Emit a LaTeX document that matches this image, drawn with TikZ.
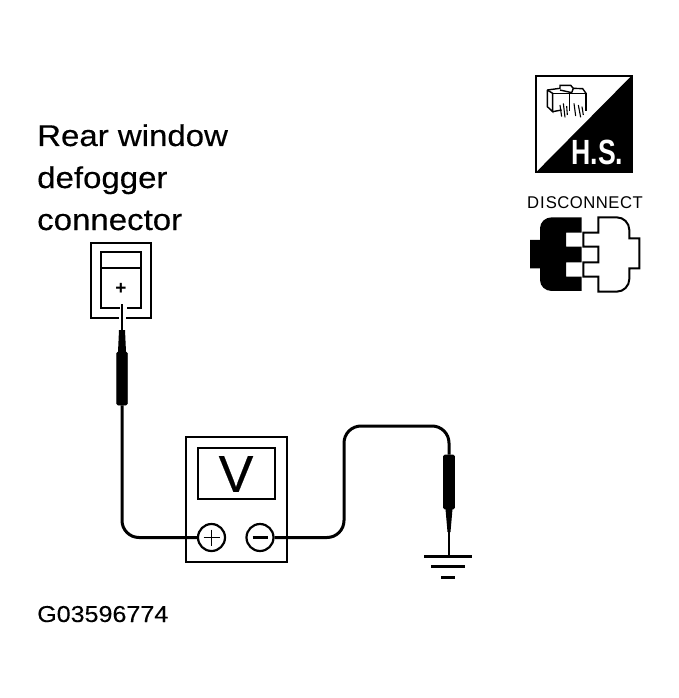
\documentclass[tikz,border=0pt]{standalone}
\usepackage{fontspec}
\setmainfont{Liberation Sans}
\newfontfamily\heavyfont[FakeBold=0.35]{Liberation Sans}
\newfontfamily\medfont[FakeBold=0.15]{Liberation Sans}
\tikzset{
  wire/.style={line width=3pt,rounded corners=17pt},
  boxline/.style={draw=black,line width=2.6pt,fill=white},
  thinline/.style={draw=black,line width=1.4pt},
  label/.style={anchor=base west,inner sep=0pt,xscale=1.1,font=\heavyfont\fontsize{30}{30}\selectfont},
  terminal/.style={circle,draw=black,line width=2.2pt,fill=white,minimum size=27pt,inner sep=0pt},
  probefill/.style={fill=black,draw=black,line width=.6pt,rounded corners=1.2pt},
  groundbar/.style={line width=3pt}
}
\begin{document}
\begin{tikzpicture}[x=1pt,y=-1pt]
\useasboundingbox (0,0) rectangle (679,698);
\fill[white] (0,0) rectangle (679,698);
% labels
\node[label] (t1) at (37,146) {Rear window};
\node[label] (t2) at (37,188) {defogger};
\node[label] (t3) at (37,230) {connector};
\node[anchor=base west,inner sep=0pt,xscale=1.09,font=\medfont\fontsize{23}{23}\selectfont] (code) at (37,622) {G03596774};
% H.S. icon
\begin{scope}[shift={(510,60)},x=.3333pt,y=-.3333pt]
\fill (365,47) -- (365,335) -- (80,335) -- cycle;
\draw[line width=2pt] (78,335) -- (78,47) -- (365,47) -- (365,335) -- cycle;
\draw[thinline] (112,90) -- (112,140) -- (128,155) -- (128,100) -- (112,90);
\draw[thinline] (128,100) -- (228,100) -- (228,152);
\draw[thinline] (112,90) -- (150,85) -- (150,76) -- (182,76) -- (190,85) -- (218,86) -- (228,100);
\draw[thinline] (150,90) -- (185,98) -- (190,85);
\draw[thinline] (178,100) -- (178,152);
\draw[thinline] (128,155) -- (155,150);
\draw[line width=1.1pt] (150,135) -- (155,170) (160,130) -- (165,172) (170,138) -- (172,165) (192,130) -- (197,168) (205,135) -- (212,172) (216,140) -- (220,165);
\node[text=white,inner sep=0pt,font=\bfseries\fontsize{35}{35}\selectfont,xscale=.76] (hs) at (262,277) {H.S.};
\end{scope}
% disconnect icon
\node[inner sep=0pt,font=\fontsize{17}{17}\selectfont,xscale=.98] (disc) at (585,203) {D\kern1pt I\kern1pt S\kern.5pt C\kern.5pt O\kern.5pt N\kern.5pt N\kern.5pt E\kern.5pt C\kern.5pt T};
\begin{scope}[shift={(510,185)},x=.3333pt,y=-.3333pt]
\fill (60,165) -- (90,165) -- (90,130) to[out=90,in=180] (125,97) -- (215,97) -- (215,143) -- (168,143) -- (168,185) -- (215,185) -- (215,232) -- (168,232) -- (168,275) -- (215,275) -- (215,318) -- (125,318) to[out=180,in=-90] (90,285) -- (90,250) -- (60,250) -- cycle;
\draw[line width=2pt,fill=white] (265,97) -- (320,97) to[out=0,in=90] (358,135) -- (358,160) -- (388,160) -- (388,250) -- (358,250) -- (358,282) to[out=-90,in=0] (320,320) -- (265,320) -- (265,275) -- (220,275) -- (220,232) -- (265,232) -- (265,185) -- (220,185) -- (220,143) -- (265,143) -- cycle;
\end{scope}
% connector
\draw[line width=2.6pt] (119,318) -- (91,318) -- (91,243) -- (151,243) -- (151,318) -- (126,318);
\draw[line width=2.6pt] (120,308) -- (101,308) -- (101,252) -- (141,252) -- (141,308) -- (127,308);
\draw[line width=1.6pt] (101,268) -- (141,268);
\node[inner sep=0pt,font=\bfseries\fontsize{19}{19}\selectfont] (plusmark) at (121,289) {+};
% probe 1
\draw[line width=1.5pt] (122,304) -- (122,333);
\fill (119,330) -- (125,330) -- (126,352) -- (118,352) -- cycle;
\node[probefill,minimum width=10.5pt,minimum height=53pt,inner sep=0pt] (probeA) at (122,378.5) {};
% meter
\node[boxline,minimum width=101pt,minimum height=125pt,inner sep=0pt] (meter) at (236.5,499.5) {};
\node[draw=black,line width=2pt,fill=white,minimum width=77pt,minimum height=51pt,inner sep=0pt] (screen) at (236.5,473.5) {};
\node[inner sep=0pt,font=\heavyfont\fontsize{52}{52}\selectfont] (vlabel) at (236,474) {V};
\node[terminal] (plus) at (211.5,537.5) {};
\node[terminal] (minus) at (260,537.5) {};
\draw[line width=1.4pt] (plus.center) ++(-8,0) -- ++(16,0) (plus.center) ++(0,-8) -- ++(0,16);
\draw[line width=2.2pt] (minus.center) ++(-7.5,0) -- ++(15,0);
% probe 2
\node[probefill,minimum width=11pt,minimum height=54pt,inner sep=0pt] (probeB) at (449,482) {};
\fill (445.5,509) -- (452.5,509) -- (450.5,532) -- (447.5,532) -- cycle;
\coordinate (tipB) at (449,556);
\draw[line width=1.5pt] (449,530) -- (tipB);
% ground
\coordinate (g1l) at (424,556); \coordinate (g1r) at (472,556);
\coordinate (g2l) at (431,566); \coordinate (g2r) at (465,566);
\coordinate (g3l) at (441,577); \coordinate (g3r) at (455,577);
\draw[groundbar] (g1l) -- (g1r);
\draw[groundbar] (g2l) -- (g2r);
\draw[groundbar] (g3l) -- (g3r);
% wires
\draw[wire] (probeA.south) |- (plus.west);
\coordinate (bendA) at (344,537.5);
\coordinate (bendB) at (344,426);
\draw[wire] (minus.east) -- (bendA) -- (bendB) -- (449,426) -- (probeB.north);
\end{tikzpicture}
\end{document}
